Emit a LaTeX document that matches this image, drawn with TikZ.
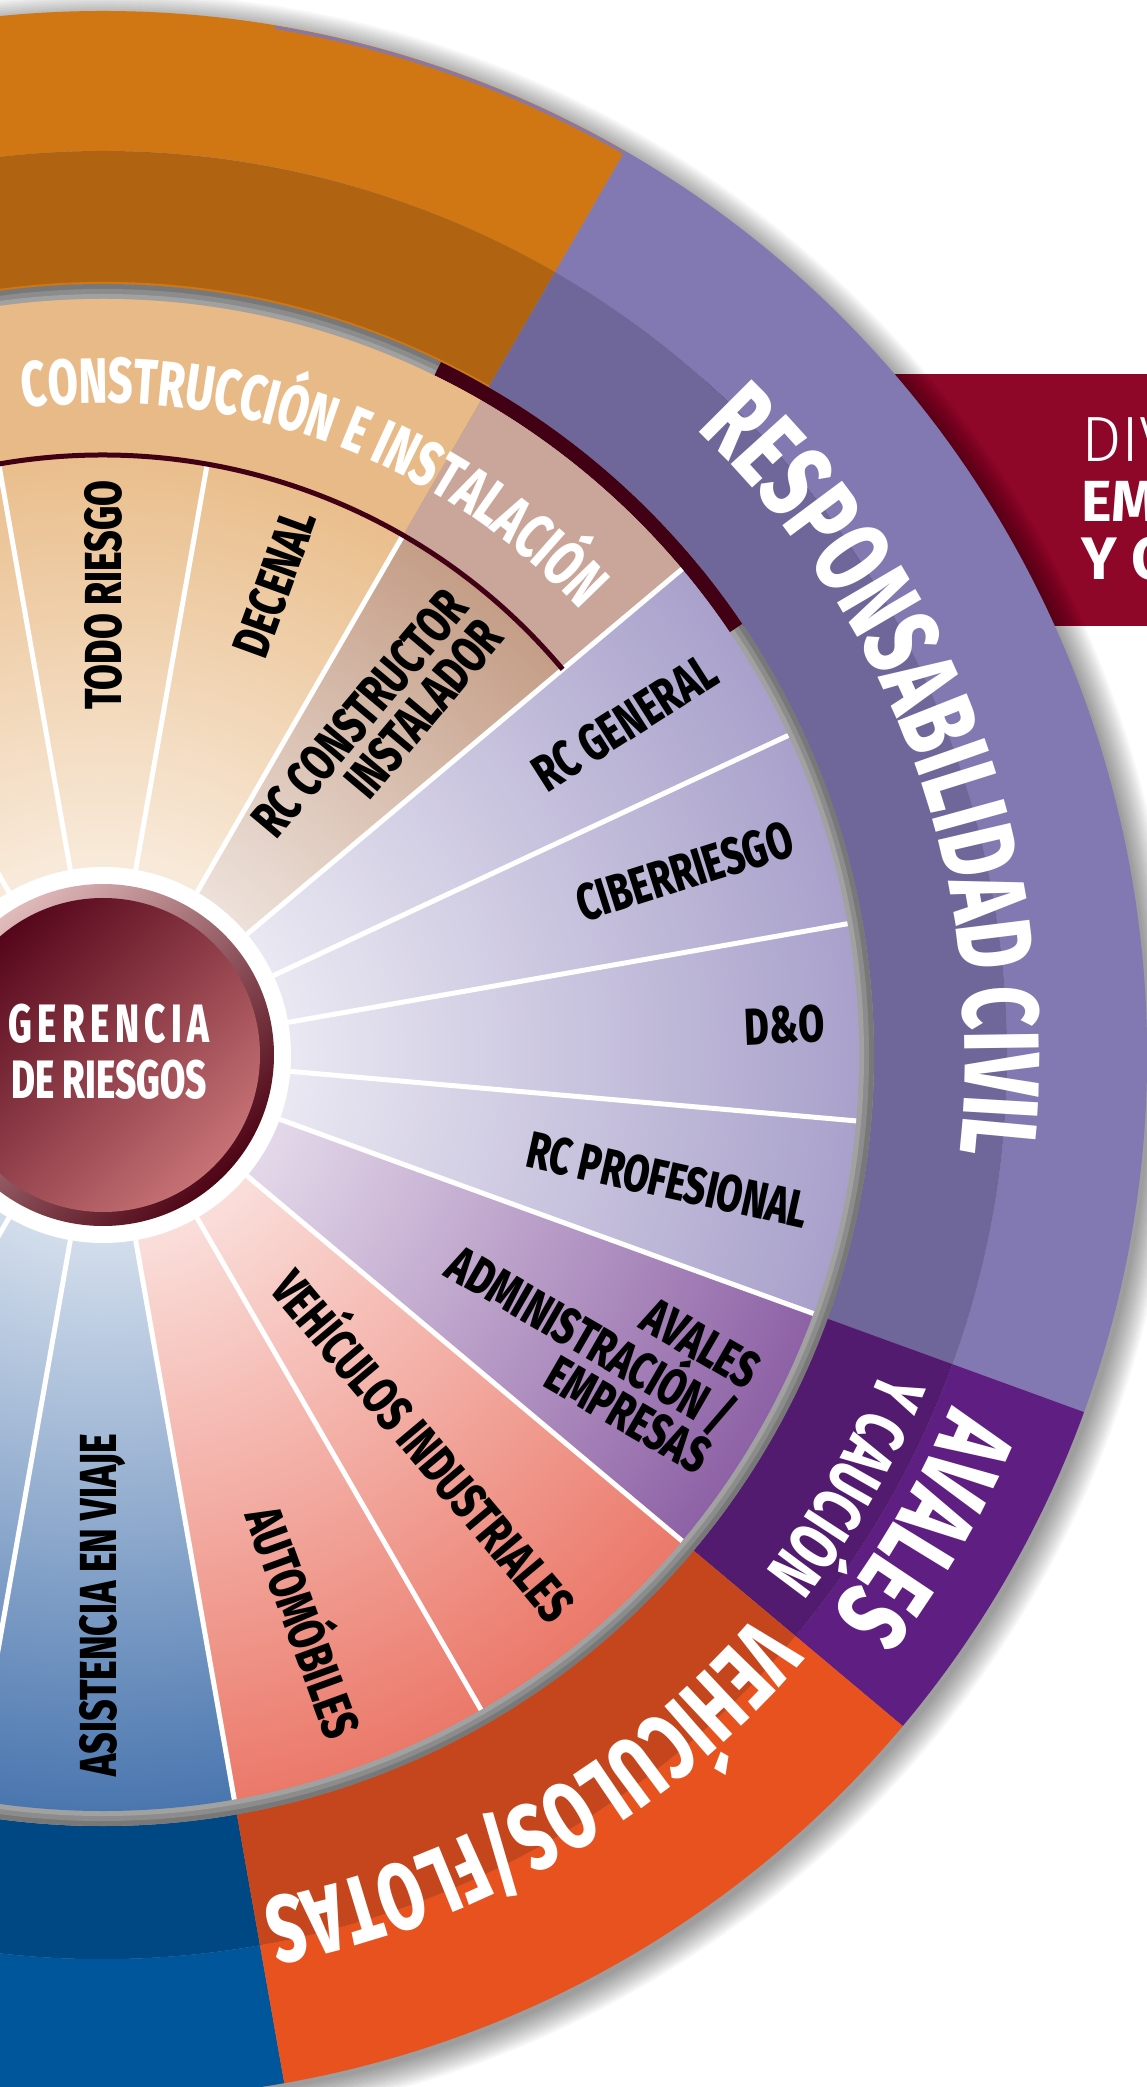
\documentclass[tikz,border=0pt]{standalone}
\usepackage{fontspec}
\setmainfont{Fira Sans}
\newfontfamily\wheelfont[FakeStretch=0.72]{Fira Sans ExtraBold}
\newfontfamily\titlefont[FakeStretch=0.68]{Fira Sans ExtraBold}
\newfontfamily\thinfont{Fira Sans Light}
\usetikzlibrary{decorations.text}

\definecolor{conA}{HTML}{D07612}
\definecolor{conB}{HTML}{B06411}
\definecolor{rcA}{HTML}{8379B2}
\definecolor{rcB}{HTML}{6F6699}
\definecolor{avA}{HTML}{5F1F82}
\definecolor{avB}{HTML}{521B6F}
\definecolor{vehA}{HTML}{E8521F}
\definecolor{vehB}{HTML}{C5461C}
\definecolor{asiA}{HTML}{00569A}
\definecolor{asiB}{HTML}{004883}
\definecolor{conBand}{HTML}{E8BA87}
\definecolor{rccBand}{HTML}{C9A699}
\definecolor{conLine}{HTML}{420014}
\definecolor{crimson}{HTML}{8E0628}
\definecolor{conIn}{HTML}{E4AD6E}
\definecolor{rccIn}{HTML}{B58467}
\definecolor{rcIn}{HTML}{A9A1CB}
\definecolor{avIn}{HTML}{8E62A6}
\definecolor{vehIn}{HTML}{EB796A}
\definecolor{asiIn}{HTML}{4A76AF}
\definecolor{rimLight}{HTML}{E2BCBC}
\definecolor{rimDark}{HTML}{4E0515}
\definecolor{discDark}{HTML}{55061A}
\definecolor{discLight}{HTML}{C67275}

% ring segment: style, start, end, inner radius, outer radius
\newcommand\ringseg[5]{\fill[#1] (#2:#4) arc[start angle=#2, end angle=#3, radius=#4] -- (#3:#5) arc[start angle=#3, end angle=#2, radius=#5] -- cycle;}
% shaded wedge: start, end, radius, outer colour
\newcommand\wedgeshade[4]{%
  \begin{scope}
    \clip (0,0) -- (#1:#3) arc[start angle=#1, end angle=#2, radius=#3] -- cycle;
    \shade[inner color=white, outer color=#4] (0,0) circle (#3);
  \end{scope}}
\newcommand\ringfont[1]{\titlefont\fontsize{#1}{#1}\selectfont}

\tikzset{
  spoke/.style={white, line width=5pt},
  sublabel/.style={inner sep=0pt, text=black, font=\wheelfont\fontsize{52}{46}\selectfont},
  ringlabel/.style={decorate, decoration={text along path, text align=center, text color=white, text={#1}}}
}

\begin{document}
\begin{tikzpicture}[x=1pt,y=1pt]
    \useasboundingbox (-103,-1032) rectangle (1044,1055);
    \clip (-103,-1032) rectangle (1044,1055);
    \fill[white] (-103,-1032) rectangle (1044,1055);

    % Banner behind the wheel
    \fill[crimson] (600,429) rectangle (1044,681);
    % Text Node
    \node[anchor=base west, inner sep=0pt, text=white, font=\thinfont\fontsize{64}{64}\selectfont] (div) at (978,593) {DIV};
    % Text Node
    \node[anchor=base west, inner sep=0pt, text=white, font=\bfseries\fontsize{58}{58}\selectfont] (em) at (978,533) {EM};
    % Text Node
    \node[anchor=base west, inner sep=0pt, text=white, font=\bfseries\fontsize{60}{60}\selectfont] (yc) at (978,475) {Y C};

    % shadow of the wheel
    \foreach \k in {1,...,14}
      \fill[black, opacity=0.03] (6,-6) circle (1040+2*\k);

    % outer ring
    \ringseg{conA}{60}{190}{904}{1044}
    \ringseg{conB}{60}{190}{771}{904}
    \ringseg{asiA}{190}{280}{904}{1044}
    \ringseg{asiB}{190}{280}{771}{904}
    \ringseg{rcA}{-20}{60}{904}{1044}
    \ringseg{rcB}{-20}{60}{771}{904}
    \ringseg{avA}{-40}{-20}{904}{1044}
    \ringseg{avB}{-40}{-20}{771}{904}
    \ringseg{vehA}{-80}{-40}{904}{1044}
    \ringseg{vehB}{-80}{-40}{771}{904}
    \draw[rcA, line width=3pt] (60:1042) arc[start angle=60, end angle=80.5, radius=1042];
    \draw[conA, line width=2pt] (60:772) arc[start angle=60, end angle=190, radius=772];

    % gap between ring and wheel
    \fill[black!53] (0,0) circle (771);
    \fill[black!45] (0,0) circle (766);
    \fill[black!37] (0,0) circle (761);
    \ringseg{conLine}{34}{64}{756}{771}

    % inner wheel
    \wedgeshade{60}{180}{756}{conIn}
    \wedgeshade{40}{60}{756}{rccIn}
    \wedgeshade{-20}{40}{756}{rcIn}
    \wedgeshade{-40}{-20}{756}{avIn}
    \wedgeshade{-80}{-40}{756}{vehIn}
    \wedgeshade{-180}{-80}{756}{asiIn}
    \ringseg{conBand}{60}{180}{600}{756}
    \ringseg{rccBand}{40}{60}{600}{756}

    %Straight Lines
    \foreach \a in {60,80,...,160}
      \draw[spoke] (\a:188) -- (\a:600);
    \foreach \a in {40,25,10,-5,-20,-40,...,-160}
      \draw[spoke] (\a:188) -- (\a:756);
    \draw[conLine, line width=5pt] (40:600) arc[start angle=40, end angle=180, radius=600];

    % centre
    \fill[white] (0,0) circle (188);
    \shade[top color=rimLight, bottom color=rimDark, shading angle=45] (0,0) circle (171);
    \shade[top color=discDark, bottom color=discLight, shading angle=45] (0,0) circle (157);
    % Text Node
    \node[inner sep=0pt, text=white, align=center, font=\titlefont\fontsize{54}{56}\selectfont] (gerencia) at (6,3) {{\addfontfeatures{LetterSpace=10}GERENCIA}\\DE RIESGOS};

    % curved titles
    \path[ringlabel={|\ringfont{64}|CONSTRUCCIÓN E INSTALACIÓN}] (130:652) arc[start angle=130, end angle=10, radius=652];
    \path[ringlabel={|\ringfont{107}|RESPONSABILIDAD CIVIL}] (80:862) arc[start angle=80, end angle=-40, radius=862];
    \path[ringlabel={|\ringfont{104}|AVALES}] (-10:918) arc[start angle=-10, end angle=-50, radius=918];
    \path[ringlabel={|\ringfont{70}|Y CAUCIÓN}] (-10:840) arc[start angle=-10, end angle=-50, radius=840];
    \path[ringlabel={|\ringfont{95}|VEHÍCULOS/FLOTAS}] (-20:860) arc[start angle=-20, end angle=-100, radius=860];

    % Text Node
    \node[sublabel, anchor=east, rotate=90] (todo) at (90:575) {TODO RIESGO};
    % Text Node
    \node[sublabel, anchor=east, rotate=70] (decenal) at (70:578) {DECENAL};
    % Text Node
    \node[sublabel, anchor=east, rotate=50, align=right] (rccons) at (50:578) {RC CONSTRUCTOR\\INSTALADOR};
    % Text Node
    \node[sublabel, anchor=east, rotate=32.5] (rcgen) at (32.5:722) {RC GENERAL};
    % Text Node
    \node[sublabel, anchor=east, rotate=17.5] (ciber) at (17.5:722) {CIBERRIESGO};
    % Text Node
    \node[sublabel, anchor=east, rotate=2.5] (dyo) at (2.5:722) {D\&O};
    % Text Node
    \node[sublabel, anchor=east, rotate=-12.5] (rcprof) at (-12.5:722) {RC PROFESIONAL};
    % Text Node
    \node[sublabel, anchor=east, rotate=-30, align=right] (admin) at (-30:725) {AVALES\\ADMINISTRACIÓN /\\EMPRESAS};
    % Text Node
    \node[sublabel, anchor=east, rotate=-50] (vehind) at (-50:725) {VEHÍCULOS INDUSTRIALES};
    % Text Node
    \node[sublabel, anchor=east, rotate=-70] (autos) at (-70:722) {AUTOMÓBILES};
    % Text Node
    \node[sublabel, anchor=west, rotate=90] (asist) at (-90:722) {ASISTENCIA EN VIAJE};
\end{tikzpicture}
\end{document}
